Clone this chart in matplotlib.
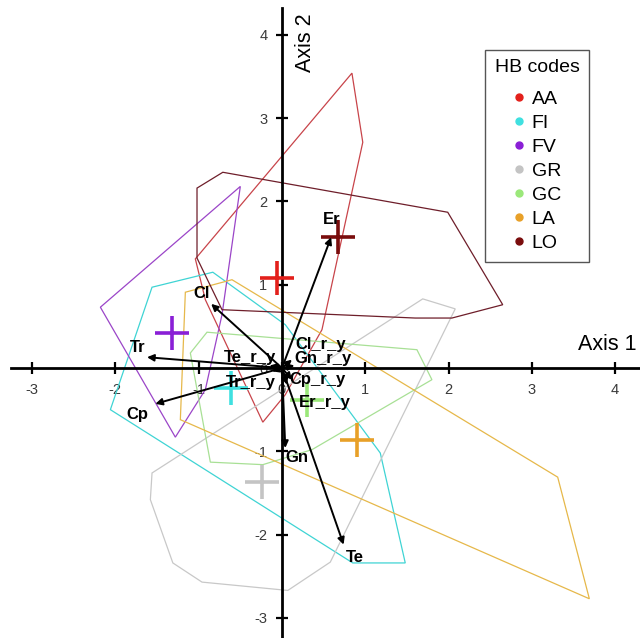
import matplotlib
matplotlib.use("Agg")
import matplotlib.pyplot as plt
from matplotlib.lines import Line2D
from matplotlib.patches import Polygon

plt.rcParams['font.family'] = ['Liberation Sans', 'DejaVu Sans']
plt.rcParams['axes.unicode_minus'] = False

# Habitat groups: hull vertices and centroids in ordination space
groups = ["AA", "FI", "FV", "GR", "GC", "LA", "LO"]
colors = ["#e3201b", "#3fe0e0", "#8a1fd6", "#c4c4c4", "#9be87a", "#e8a028", "#7a0d0d"]
hull_colors = ["#c8444a", "#3fd4d4", "#9b45c8", "#c8c8c8", "#a8e095", "#e6b84a", "#6e1e2a"]

centroid_x = [-0.06, -0.61, -1.32, -0.24, 0.30, 0.90, 0.67]
centroid_y = [1.08, -0.24, 0.42, -1.37, -0.38, -0.86, 1.57]

hull_AA = [(0.84, 3.54), (0.97, 2.71), (0.48, 0.46), (0.04, -0.32),
           (-0.23, -0.65), (-0.92, 0.82), (-1.04, 1.31)]
hull_FI = [(-1.56, 0.97), (-0.83, 1.15), (0.04, 0.52), (1.18, -1.02),
           (1.48, -2.34), (0.85, -2.34), (-2.06, -0.50)]
hull_FV = [(-0.50, 2.18), (-0.72, 0.64), (-0.92, -0.26), (-1.28, -0.83),
           (-2.18, 0.73)]
hull_GR = [(1.69, 0.83), (2.08, 0.71), (0.58, -2.33), (0.07, -2.67),
           (-0.96, -2.57), (-1.31, -2.34), (-1.58, -1.58), (-1.56, -1.26)]
hull_GC = [(-0.90, 0.43), (-1.10, 0.18), (-0.86, -1.13), (-0.23, -1.16),
           (0.36, -0.98), (1.80, -0.14), (1.62, 0.22)]
hull_LA = [(-1.16, 0.91), (-0.60, 1.06), (3.31, -1.31), (3.69, -2.77),
           (-1.22, -0.62)]
hull_LO = [(-1.02, 2.16), (-0.71, 2.35), (1.99, 1.87), (2.65, 0.76),
           (2.04, 0.60), (1.60, 0.60), (-0.72, 0.70), (-1.02, 1.32)]
hulls = [hull_AA, hull_FI, hull_FV, hull_GR, hull_GC, hull_LA, hull_LO]

# Environmental variable vectors
var_names = ["Er", "Cl", "Tr", "Cp", "Gn", "Te",
             "Cl_r_y", "Gn_r_y", "Te_r_y", "Tr_r_y", "Cp_r_y", "Er_r_y"]
var_x = [0.59, -0.85, -1.62, -1.52, 0.04, 0.74,
         0.12, 0.15, -0.15, -0.12, 0.12, 0.06]
var_y = [1.57, 0.77, 0.13, -0.43, -0.96, -2.12,
         0.10, 0.03, 0.03, -0.04, -0.14, -0.20]

# Where each vector name is written
label_pos = [(0.60, 1.78), (-0.96, 0.90), (-1.73, 0.25), (-1.73, -0.56),
             (0.18, -1.08), (0.88, -2.27),
             (0.46, 0.28), (0.49, 0.12), (-0.38, 0.13), (-0.38, -0.17),
             (0.43, -0.14), (0.52, -0.41)]

ticks = [-3, -2, -1, 0, 1, 2, 3, 4]

fig = plt.figure(figsize=(6.4, 6.38), dpi=100)
ax = fig.add_axes([0, 0, 1, 1])
ax.set_xlim(-3.385, 4.298)
ax.set_ylim(-3.241, 4.418)

for spine in ["top", "right"]:
    ax.spines[spine].set_visible(False)
ax.spines["left"].set_position("zero")
ax.spines["bottom"].set_position("zero")
ax.spines["left"].set_linewidth(2)
ax.spines["bottom"].set_linewidth(2)
ax.spines["bottom"].set_bounds(-3.25, 4.3)
ax.spines["left"].set_bounds(-3.24, 4.32)
ax.set_xticks(ticks)
ax.set_yticks(ticks)
ax.tick_params(axis="both", direction="inout", length=9, width=1.6,
               labelsize=10.5, labelcolor="#3a3a3a")
ax.tick_params(axis="x", pad=6)
ax.tick_params(axis="y", pad=6)

for hull, col in zip(hulls, hull_colors):
    ax.add_patch(Polygon(hull, closed=True, fill=False, edgecolor=col,
                         linewidth=0.9, zorder=2))

for cx, cy, col in zip(centroid_x, centroid_y, colors):
    ax.plot(cx, cy, marker="+", markersize=24, markeredgewidth=2.6,
            color=col, linestyle="none", zorder=3)

for name, vx, vy, (lx, ly) in zip(var_names, var_x, var_y, label_pos):
    ax.annotate("", xy=(vx, vy), xytext=(0, 0),
                arrowprops=dict(arrowstyle="-|>", color="black", lw=1.4,
                                mutation_scale=10, shrinkA=0, shrinkB=0),
                zorder=4)
    ax.text(lx, ly, name, ha="center", va="center", fontsize=12,
            fontweight="bold", color="black", zorder=5)

ax.text(3.9, 0.28, "Axis 1", ha="center", va="center", fontsize=15.5)
ax.text(0.28, 3.91, "Axis 2", ha="center", va="center", fontsize=15.5,
        rotation=90)

handles = [Line2D([], [], marker="o", linestyle="none", markersize=5,
                  markerfacecolor=c, markeredgecolor=c) for c in colors]
leg = ax.legend(handles, groups, title="HB codes", loc="upper left",
                bbox_to_anchor=(0.758, 0.922), bbox_transform=fig.transFigure,
                fontsize=14, title_fontsize=14, frameon=True,
                fancybox=False, edgecolor="#555555", framealpha=1,
                handlelength=0.6, handletextpad=0.35, labelspacing=0.33,
                borderpad=0.5, borderaxespad=0)
leg.get_frame().set_linewidth(1.0)
# extra gap between the legend title and its entries
leg._legend_box.sep = 10

fig.savefig("out.png", dpi=100)
